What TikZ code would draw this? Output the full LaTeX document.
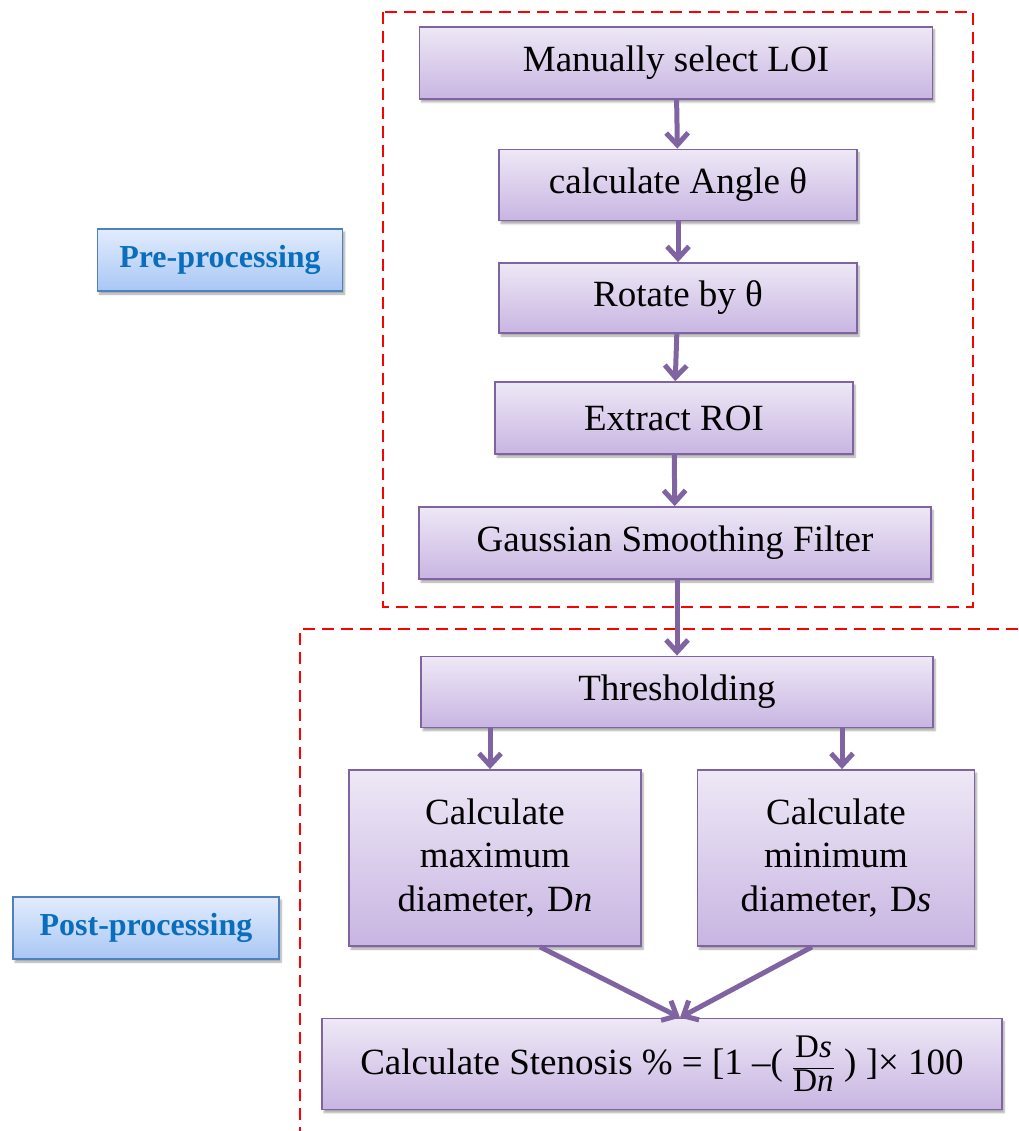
\documentclass[tikz,border=0pt]{standalone}
\usepackage{fontspec}
\setmainfont{Liberation Serif}
\usetikzlibrary{arrows.meta,shadows.blur}
\definecolor{boxline}{HTML}{8064A2}
\definecolor{boxtop}{HTML}{EEE8F6}
\definecolor{boxbot}{HTML}{C8B5E2}
\definecolor{tagline}{HTML}{4F81BD}
\definecolor{tagtop}{HTML}{E2ECFD}
\definecolor{tagbot}{HTML}{A8C7F5}
\definecolor{tagtext}{HTML}{0A6EBD}
\newcommand{\fracpart}[1]{\mbox{\fontsize{33}{33}\selectfont #1}}
\begin{document}
\begin{tikzpicture}[x=1pt, y=-1pt,
    stepbox/.style={rectangle, draw=boxline, line width=1.8pt, top color=boxtop, bottom color=boxbot,
        blur shadow={shadow xshift=2pt, shadow yshift=-3pt, shadow blur steps=6, shadow opacity=35},
        inner sep=0pt, align=center, font=\fontsize{37}{43}\selectfont},
    phase/.style={rectangle, draw=tagline, line width=1.5pt, top color=tagtop, bottom color=tagbot,
        blur shadow={shadow xshift=2pt, shadow yshift=-3pt, shadow blur steps=6, shadow opacity=35},
        inner sep=0pt, text=tagtext, font=\fontsize{32}{36}\selectfont\bfseries},
    flow/.style={draw=boxline, line width=5pt, -{Straight Barb[length=12pt, width=22pt]}},
    zone/.style={draw=red, line width=1.8pt, dash pattern=on 12pt off 7pt}
]
\useasboundingbox (0,0) rectangle (1018,1131);

% phase frames
\draw[zone] (383,12) rectangle (973,607);
\draw[zone] (1018,629) -- (300,629) -- (300,1131);

% pre-processing steps
\node[stepbox, minimum width=513pt, minimum height=72pt] (loi)   at (676,63)  {Manually select LOI};
\node[stepbox, minimum width=358pt, minimum height=71pt] (angle) at (678,185) {calculate Angle θ};
\node[stepbox, minimum width=358pt, minimum height=70pt] (rot)   at (678,298) {Rotate by θ};
\node[stepbox, minimum width=358pt, minimum height=72pt] (roi)   at (674,418) {Extract ROI};
\node[stepbox, minimum width=512pt, minimum height=72pt] (gauss) at (675,543) {Gaussian Smoothing Filter};

% post-processing steps
\node[stepbox, minimum width=512pt, minimum height=71pt] (thr)  at (677,692) {Thresholding};
\node[stepbox, minimum width=292pt, minimum height=176pt, text width=280pt] (dmax) at (495,858)
    {Calculate\\maximum\\diameter, D\textit{n}};
\node[stepbox, minimum width=277pt, minimum height=176pt, text width=265pt] (dmin) at (836,858)
    {Calculate\\minimum\\diameter, D\textit{s}};
\node[stepbox, minimum width=680pt, minimum height=91pt] (sten) at (662,1064)
    {Calculate Stenosis \% = [1 –( $\displaystyle\frac{\fracpart{D\textit{s}}}{\fracpart{D\textit{n}}}$ ) ]× 100};

% phase tags
\node[phase, minimum width=245pt, minimum height=62pt] (pre)  at (220,260) {Pre-processing};
\node[phase, minimum width=266pt, minimum height=62pt] (post) at (146,928) {Post-processing};

% connectors
\draw[flow] (loi) -- (angle);
\draw[flow] (angle) -- (rot);
\draw[flow] (rot) -- (roi);
\draw[flow] (roi) -- (gauss);
\draw[flow] (gauss.south -| thr.north) -- (thr.north);
\draw[flow] (thr.south -| 490,0) -- (dmax.north -| 490,0);
\draw[flow] (thr.south -| 842,0) -- (dmin.north -| 842,0);
\draw[flow] (dmax.south -| 540,0) -- (sten.north -| 680,0);
\draw[flow] (dmin.south -| 812,0) -- (sten.north -| 680,0);
\end{tikzpicture}
\end{document}
